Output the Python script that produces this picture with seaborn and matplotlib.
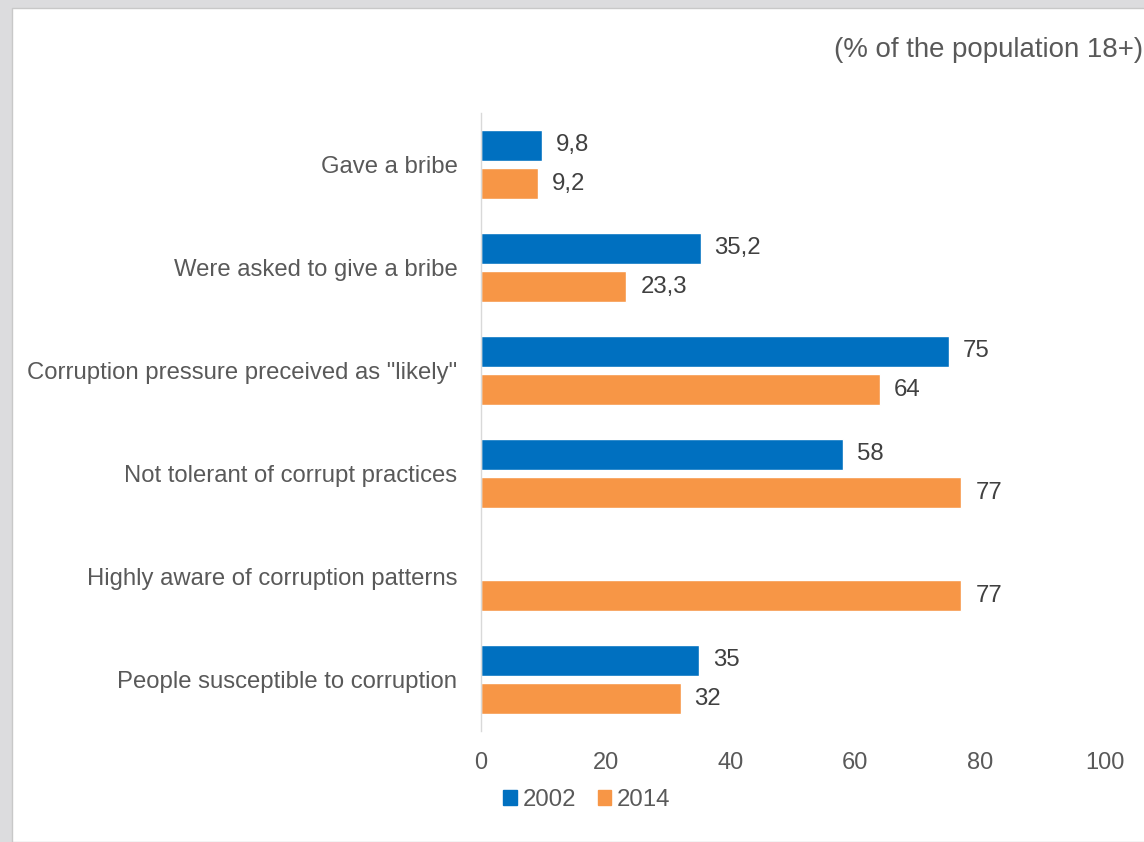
import pandas as pd
import matplotlib.pyplot as plt
import seaborn as sns
from matplotlib.patches import Rectangle

# Chart data
categories = [
    "Gave a bribe",
    "Were asked to give a bribe",
    'Corruption pressure preceived as "likely"',
    "Not tolerant of corrupt practices",
    "Highly aware of corruption patterns",
    "People susceptible to corruption",
]
values_2002 = [9.8, 35.2, 75, 58, None, 35]
values_2014 = [9.2, 23.3, 64, 77, 77, 32]
years = ["2002", "2014"]
x_ticks = [0, 20, 40, 60, 80, 100]

colors = {"2002": "#0070C0", "2014": "#F79646"}
text_color = "#595959"

# long format for seaborn, skip the missing 2002 value
df = pd.DataFrame({
    "category": categories * 2,
    "year": [years[0]] * len(categories) + [years[1]] * len(categories),
    "value": values_2002 + values_2014,
})
df = df.dropna(subset=["value"])

sns.set_theme(style="white")
plt.rcParams["font.family"] = ["Liberation Sans", "DejaVu Sans"]

W, H = 1144, 842
fig = plt.figure(figsize=(W / 100, H / 100), dpi=100, facecolor="#dcdcde")

# white slide panel
fig.add_artist(Rectangle((12 / W, 0), 1, 1 - 8 / H, transform=fig.transFigure,
                         facecolor="white", edgecolor="#c8c8c8", lw=1, zorder=-1))

ax = fig.add_axes([481 / W, 1 - 731 / H, 624 / W, 618 / H])
ax.set_facecolor("none")

sns.barplot(data=df, y="category", x="value", hue="year", order=categories,
            hue_order=years, palette=colors, orient="h", width=0.75, gap=0.2,
            saturation=1, ax=ax)

for container in ax.containers:
    ax.bar_label(container, fmt=lambda v: f"{v:g}".replace(".", ","),
                 padding=10, fontsize=17.3, color="#404040")

ax.set_xlim(0, 100)
ax.set_xticks(x_ticks)
ax.set_xlabel("")
ax.set_ylabel("")
for side in ["top", "right", "bottom"]:
    ax.spines[side].set_visible(False)
ax.spines["left"].set_color("#d9d9d9")
ax.spines["left"].set_linewidth(1)
ax.tick_params(axis="y", length=0, pad=17, labelsize=17.2, labelcolor=text_color)
ax.tick_params(axis="x", length=0, pad=15, labelsize=17, labelcolor=text_color)

ax.get_legend().remove()
handles = [Rectangle((0, 0), 1, 1, color=colors[y]) for y in years]
fig.legend(handles, years, loc="center", bbox_to_anchor=(587 / W, 1 - 800 / H),
           ncol=2, frameon=False, handlelength=0.55, handleheight=0.55,
           handletextpad=0.25, columnspacing=0.9, fontsize=17.3, labelcolor=text_color)

fig.text(1143 / W, 1 - 50 / H, "(% of the population 18+)", ha="right",
         va="center", fontsize=19.9, color=text_color)

plt.savefig("out.png", dpi=100, facecolor=fig.get_facecolor())
plt.close()
